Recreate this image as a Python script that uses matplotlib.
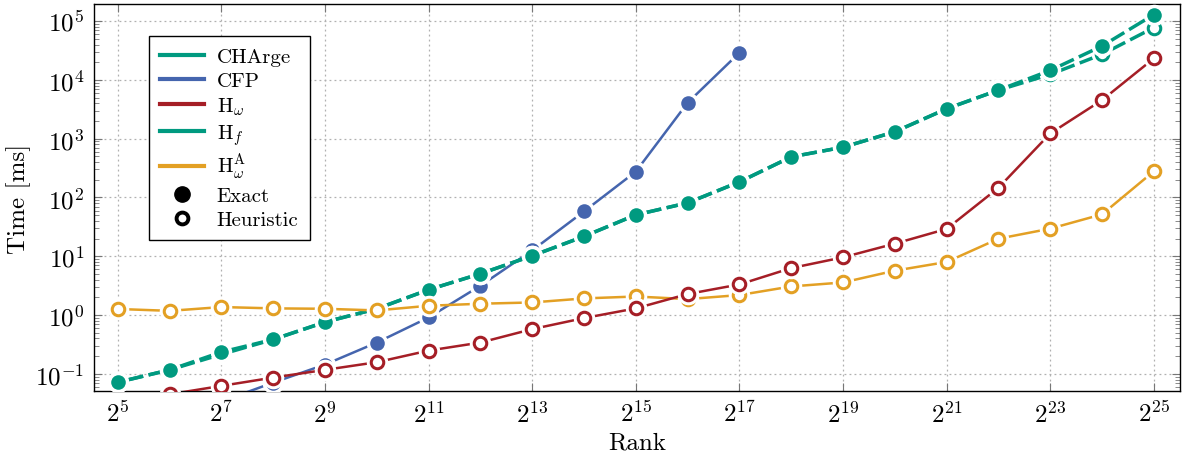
import numpy as np
import matplotlib
matplotlib.use("Agg")
import matplotlib.pyplot as plt
from matplotlib.lines import Line2D
from matplotlib.ticker import FixedLocator, LogFormatterMathtext, LogLocator, NullFormatter

plt.rcParams['font.family'] = ['cmr10', 'DejaVu Serif']
plt.rcParams['mathtext.fontset'] = 'cm'
plt.rcParams['axes.formatter.use_mathtext'] = True

# ---------------------------------------------------------------- data
exps = np.arange(5, 26)  # rank = 2^exp
ranks = 2.0 ** exps

charge = [0.072, 0.117, 0.235, 0.385, 0.76, 1.28, 2.7, 5.05, 10.2, 21.8, 50.6,
          81, 184, 491, 716, 1312, 3230, 6700, 14500, 37700, 129000]
h_f = [0.072, 0.117, 0.215, 0.385, 0.76, 1.28, 2.7, 5.05, 10.2, 21.8, 50.6,
       81, 184, 491, 716, 1312, 3230, 6700, 12400, 27200, 77500]
cfp_exps = np.arange(5, 18)
cfp = [0.012, 0.02, 0.034, 0.071, 0.144, 0.341, 0.91, 3.16, 12.6, 58, 276, 4090, 29000]
h_w = [0.033, 0.045, 0.0625, 0.0865, 0.117, 0.158, 0.249, 0.341, 0.577, 0.889, 1.30,
       2.28, 3.32, 6.3, 9.6, 16.4, 29.2, 146, 1227, 4530, 23200]
h_wa = [1.27, 1.18, 1.37, 1.30, 1.28, 1.20, 1.44, 1.56, 1.64, 1.92, 2.07,
        1.87, 2.19, 3.07, 3.59, 5.69, 8.0, 19.9, 29.5, 51.7, 279]

TEAL = '#009a80'
BLUE = '#4565ae'
RED = '#a51e26'
ORANGE = '#e3a024'

fig = plt.figure(figsize=(11.84, 4.6), dpi=100)
ax = fig.add_axes([0.0794, 0.148, 0.917, 0.841])

MS = 9.5

def draw(x, y, color, filled, dashed, z):
    if dashed:
        # one segment at a time so overlapping series keep the same dash phase
        for i in range(len(x) - 1):
            ax.plot(x[i:i + 2], y[i:i + 2], color=color, lw=2.5,
                    dashes=(7.5, 1.6), dash_capstyle='butt', zorder=z)
    else:
        ax.plot(x, y, color=color, lw=1.8, zorder=z)
    # white halo so the line stops short of the marker
    ax.plot(x, y, ls='none', marker='o', ms=MS + 5, mfc='white', mec='white', zorder=z + 0.1)
    if filled:
        ax.plot(x, y, ls='none', marker='o', ms=MS + 1, mfc=color, mec=color, mew=0, zorder=z + 0.2)
    else:
        ax.plot(x, y, ls='none', marker='o', ms=MS - 0.5, mfc='white', mec=color, mew=2.2, zorder=z + 0.2)

draw(2.0 ** cfp_exps, cfp, BLUE, True, False, 3)
draw(ranks, h_f, TEAL, False, True, 4)
draw(ranks, charge, TEAL, True, True, 5)
draw(ranks, h_wa, ORANGE, False, False, 6)
draw(ranks, h_w, RED, False, False, 7)

ax.set_xscale('log', base=2)
ax.set_yscale('log')
ax.set_xlim(2 ** 4.54, 2 ** 25.5)
ax.set_ylim(10 ** -1.29, 10 ** 5.29)

ax.xaxis.set_major_locator(FixedLocator(2.0 ** np.arange(5, 26, 2)))
ax.xaxis.set_major_formatter(LogFormatterMathtext(base=2))
ax.xaxis.set_minor_locator(FixedLocator([]))
ax.yaxis.set_major_locator(FixedLocator(10.0 ** np.arange(-1, 6)))
ax.yaxis.set_major_formatter(LogFormatterMathtext(base=10))
ax.yaxis.set_minor_locator(LogLocator(base=10, subs=np.arange(2, 10), numticks=20))
ax.yaxis.set_minor_formatter(NullFormatter())

ax.tick_params(which='both', direction='in', top=True, right=True, color='#777777')
ax.tick_params(which='major', length=6, width=0.8, labelsize=18, pad=7)
ax.tick_params(which='minor', length=3.5, width=0.6)
ax.grid(True, which='major', ls=(0, (1.5, 2.5)), color='#b0b0b0', lw=0.9)
ax.set_axisbelow(True)
for s in ax.spines.values():
    s.set_linewidth(1.0)

ax.set_xlabel('Rank', fontsize=18, labelpad=3)
ax.set_ylabel('Time [ms]', fontsize=18, labelpad=3)

handles = [
    Line2D([], [], color=TEAL, lw=3),
    Line2D([], [], color=BLUE, lw=3),
    Line2D([], [], color=RED, lw=3),
    Line2D([], [], color=TEAL, lw=3),
    Line2D([], [], color=ORANGE, lw=3),
    Line2D([], [], ls='none', marker='o', ms=11, mfc='black', mec='black'),
    Line2D([], [], ls='none', marker='o', ms=8.5, mfc='white', mec='black', mew=2.8),
]
labels = ['CHArge', 'CFP', r'H$_\omega$', r'H$_f$', r'H$_\omega^{\mathrm{A}}$', 'Exact', 'Heuristic']
leg = ax.legend(handles, labels, loc='upper left', bbox_to_anchor=(0.0506, 0.917),
                fontsize=15, frameon=True, fancybox=False, edgecolor='black',
                framealpha=1, handlelength=2.1, handletextpad=0.6,
                labelspacing=0.25, borderpad=0.55, borderaxespad=0)
leg.get_frame().set_linewidth(1.0)
leg.set_zorder(10)

fig.savefig('out.png', dpi=100)
